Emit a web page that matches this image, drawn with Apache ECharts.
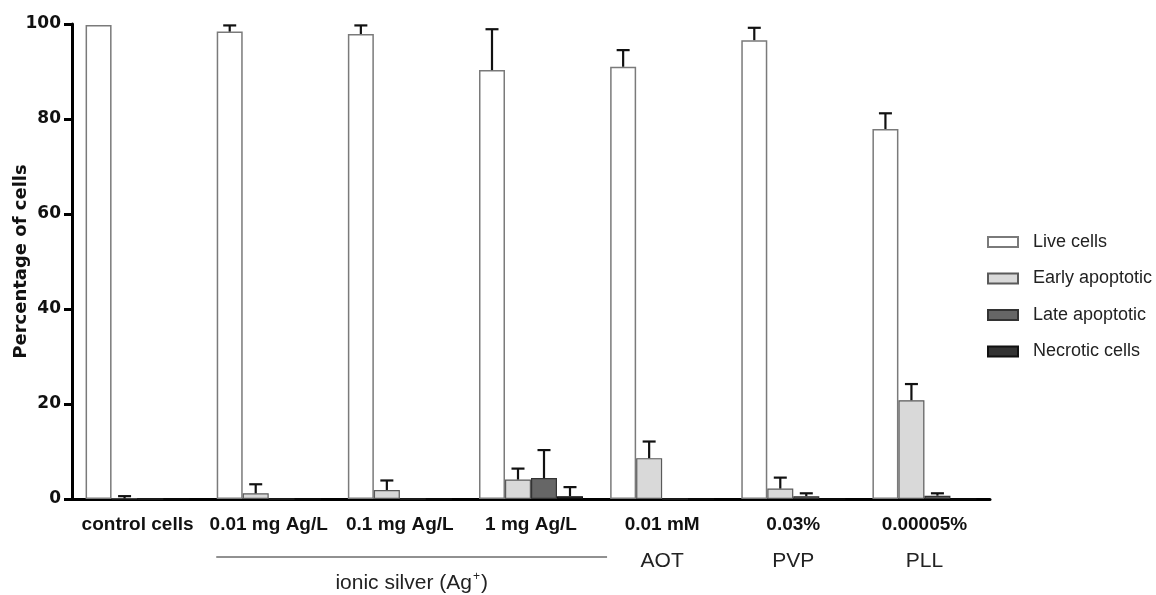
<!DOCTYPE html>
<html>
<head>
<meta charset="utf-8">
<script src="https://cdn.jsdelivr.net/npm/echarts@6/dist/echarts.min.js"></script>
<style>
  html, body { margin: 0; padding: 0; background: #fff; }
  #main { width: 1156px; height: 595px; }
</style>
</head>
<body>
<div id="main"></div>
<script>
// categories (top line of x labels) and group labels (second line)
const categories = ['control cells', '0.01 mg Ag/L', '0.1 mg Ag/L', '1 mg Ag/L', '0.01 mM', '0.03%', '0.00005%']
const subLabels = ['', '', '', '', 'AOT', 'PVP', 'PLL']
const seriesNames = ['Live cells', 'Early apoptotic', 'Late apoptotic', 'Necrotic cells']

// mean values
const liveCells = [99.8, 98.4, 97.9, 90.3, 91.0, 96.6, 77.9]
const earlyApoptotic = [0.1, 1.2, 1.9, 4.1, 8.6, 2.2, 20.8]
const lateApoptotic = [0, 0, 0, 4.4, 0, 0.6, 0.7]
const necroticCells = [0, 0, 0, 0.6, 0, 0, 0]

// error bar (upper) lengths
const liveErr = [0, 1.3, 1.8, 8.6, 3.5, 2.6, 3.3]
const earlyErr = [0.5, 1.9, 2.0, 2.3, 3.5, 2.3, 3.4]
const lateErr = [0, 0, 0, 5.9, 0, 0.6, 0.5]
const necroticErr = [0, 0, 0, 1.9, 0, 0, 0]

const yTicks = [0, 20, 40, 60, 80, 100]

const values = [liveCells, earlyApoptotic, lateApoptotic, necroticCells]
const errors = [liveErr, earlyErr, lateErr, necroticErr]
const styles = [
    { color: '#ffffff', borderColor: '#7a7a7a', borderWidth: 1.5 },
    { color: '#d9d9d9', borderColor: '#5a5a5a', borderWidth: 1.2 },
    { color: '#666666', borderColor: '#333333', borderWidth: 1.2 },
    { color: '#333333', borderColor: '#111111', borderWidth: 1.2 },
]
const BAR_W = 26

const chart = echarts.init(document.getElementById('main'))

// 误差线
const errorSeries = (k) => ({
    type: 'custom',
    name: 'err' + k,
    z: 5,
    data: values[k].map((v, i) => [i, v, errors[k][i]]),
    renderItem: (params, api) => {
        const e = api.value(2)
        if (!e) return null
        const off = (k - 1.5) * BAR_W
        const base = api.coord([api.value(0), api.value(1)])
        const top = api.coord([api.value(0), api.value(1) + e])
        const x = base[0] + off
        const st = { stroke: '#111', lineWidth: 2.2 }
        return {
            type: 'group',
            children: [
                { type: 'line', shape: { x1: x, y1: base[1], x2: x, y2: top[1] }, style: st },
                { type: 'line', shape: { x1: x - 6.5, y1: top[1], x2: x + 6.5, y2: top[1] }, style: st },
            ]
        }
    }
})

const barSeries = seriesNames.map((name, k) => ({
    type: 'bar',
    name: name,
    barWidth: BAR_W,
    barGap: '0%',
    itemStyle: styles[k],
    data: values[k],
}))

chart.setOption({
    animation: false,
    backgroundColor: '#fff',
    grid: { left: 72, right: 166, top: 24, bottom: 96, outerBoundsMode: 'none', containLabel: false },
    legend: {
        data: seriesNames,
        orient: 'vertical',
        left: 982,
        top: 227,
        itemWidth: 30,
        itemHeight: 10,
        itemGap: 16.5,
        icon: 'rect',
        textStyle: {
            fontFamily: 'Liberation Sans',
            fontSize: 18,
            lineHeight: 20,
            color: '#222',
            padding: [0, 0, 0, 10],
        },
    },
    xAxis: {
        type: 'category',
        data: categories,
        axisLine: { lineStyle: { color: '#000', width: 3 } },
        axisTick: { alignWithLabel: true, length: 8, lineStyle: { color: '#000', width: 3 } },
        axisLabel: {
            interval: 0,
            margin: 15,
            formatter: (val, idx) => subLabels[idx] ? '{a|' + val + '}\n{b|' + subLabels[idx] + '}' : '{a|' + val + '}',
            rich: {
                a: { fontFamily: 'Liberation Sans', fontWeight: 'bold', fontSize: 19, lineHeight: 22, color: '#111' },
                b: { fontFamily: 'Liberation Sans', fontSize: 21, lineHeight: 50, color: '#222' },
            },
        },
    },
    yAxis: {
        type: 'value',
        min: 0,
        max: 100,
        interval: 20,
        name: 'Percentage of cells',
        nameLocation: 'middle',
        nameRotate: 90,
        nameGap: 42,
        nameMoveOverlap: false,
        nameTextStyle: { fontFamily: 'DejaVu Sans', fontWeight: 'bold', fontSize: 18, color: '#111' },
        splitLine: { show: false },
        axisLine: { show: true, lineStyle: { color: '#000', width: 3 } },
        axisTick: { show: true, length: 8, lineStyle: { color: '#000', width: 3 } },
        axisLabel: {
            margin: 11,
            fontFamily: 'DejaVu Sans',
            fontWeight: 'bold',
            fontSize: 17,
            color: '#111',
            formatter: (v) => yTicks.includes(v) ? String(v) : '',
        },
    },
    series: [...barSeries, ...[0, 1, 2, 3].map(errorSeries)],
})

// ionic silver bracket under the three Ag+ groups
const p1 = chart.convertToPixel({ xAxisIndex: 0 }, 1)
const p3 = chart.convertToPixel({ xAxisIndex: 0 }, 3)
const band = chart.convertToPixel({ xAxisIndex: 0 }, 2) - p1
const lineY = 557
chart.setOption({
    graphic: [
        {
            type: 'line',
            shape: { x1: p1 - band * 0.4, y1: lineY, x2: p3 + band * 0.58, y2: lineY },
            style: { stroke: '#222', lineWidth: 1 },
        },
        {
            type: 'text',
            x: (p1 - band * 0.4 + p3 + band * 0.58) / 2,
            y: 583,
            style: {
                text: '{t|ionic silver (Ag}{s|+}{t|)}',
                rich: {
                    t: { fontFamily: 'Liberation Sans', fontSize: 21, lineHeight: 24, fill: '#222' },
                    s: { fontFamily: 'Liberation Sans', fontSize: 12, lineHeight: 24, verticalAlign: 'top', fill: '#222', padding: [0, 1, 8, 1] },
                },
                align: 'center',
                verticalAlign: 'middle',
            },
        },
    ],
})
</script>
</body>
</html>
